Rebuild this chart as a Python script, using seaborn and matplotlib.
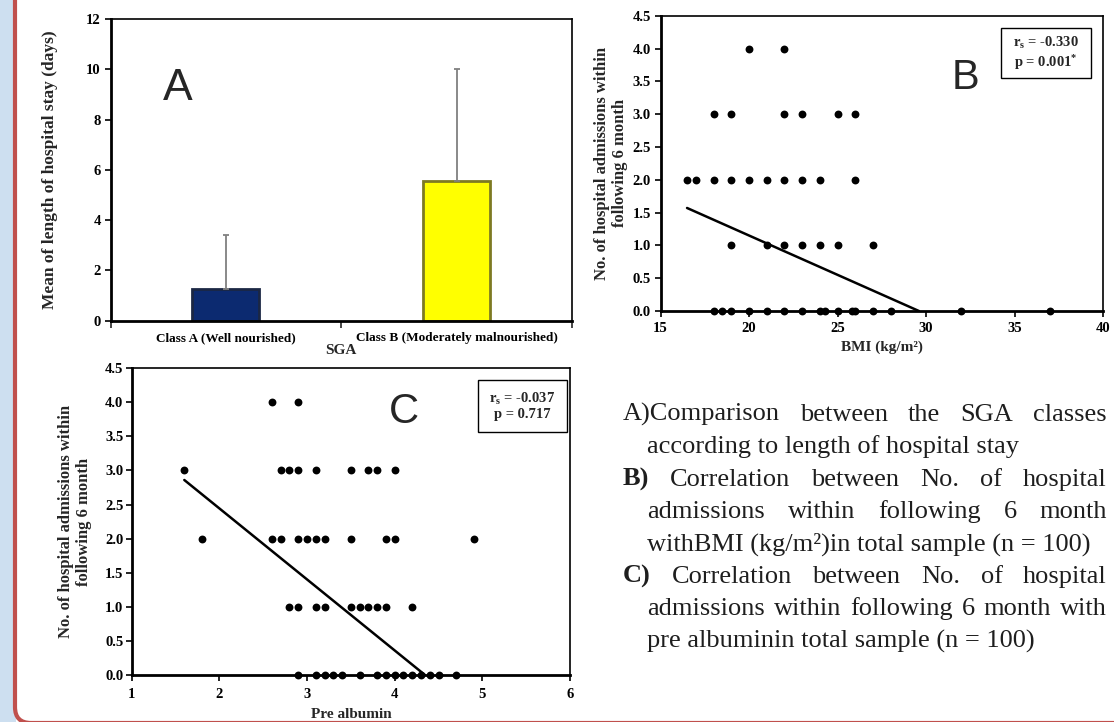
import matplotlib
matplotlib.use("Agg")
import matplotlib.pyplot as plt
import seaborn as sns
from matplotlib.patches import Rectangle, FancyBboxPatch

# ---- panel A: mean length of hospital stay by SGA class ----
sga_classes = ["Class A (Well nourished)", "Class B (Moderately malnourished)"]
stay_mean = [1.27, 5.57]
stay_sd = [2.15, 4.43]
stay_ticks = [0, 2, 4, 6, 8, 10, 12]

# ---- panel B: admissions vs BMI ----
bmi = [20, 22,
       18, 19, 22, 23, 25, 26,
       16.5, 17, 18, 19, 20, 21, 22, 23, 24, 26,
       19, 21, 22, 23, 24, 25, 27,
       18, 18.5, 19, 20, 21, 22, 23, 24, 24.3, 25, 25.8, 26, 27, 28, 32, 37]
bmi_adm = [4, 4,
           3, 3, 3, 3, 3, 3,
           2, 2, 2, 2, 2, 2, 2, 2, 2, 2,
           1, 1, 1, 1, 1, 1, 1,
           0, 0, 0, 0, 0, 0, 0, 0, 0, 0, 0, 0, 0, 0, 0, 0]
bmi_trend_x = [16.5, 29.6]
bmi_trend_y = [1.57, 0.0]
bmi_ticks = [15, 20, 25, 30, 35, 40]

# ---- panel C: admissions vs pre albumin ----
prealb = [2.6, 2.9,
          1.6, 2.7, 2.8, 2.9, 3.1, 3.5, 3.7, 3.8, 4.0,
          1.8, 2.6, 2.7, 2.9, 3.0, 3.1, 3.2, 3.5, 3.9, 4.0, 4.9,
          2.8, 2.9, 3.1, 3.2, 3.5, 3.6, 3.7, 3.8, 3.9, 4.2,
          2.9, 3.1, 3.2, 3.3, 3.4, 3.6, 3.8, 3.9, 4.0, 4.1, 4.2, 4.3, 4.4, 4.5, 4.7]
prealb_adm = [4, 4,
              3, 3, 3, 3, 3, 3, 3, 3, 3,
              2, 2, 2, 2, 2, 2, 2, 2, 2, 2, 2,
              1, 1, 1, 1, 1, 1, 1, 1, 1, 1,
              0, 0, 0, 0, 0, 0, 0, 0, 0, 0, 0, 0, 0, 0, 0]
prealb_trend_x = [1.6, 4.35]
prealb_trend_y = [2.86, 0.0]
prealb_ticks = [1, 2, 3, 4, 5, 6]
adm_ticks = [0, 0.5, 1, 1.5, 2, 2.5, 3, 3.5, 4, 4.5]

adm_label = "No. of hospital admissions within\nfollowing 6 month"

caption_lines = [
    ("", "A)Comparison between the SGA classes", False, True),
    ("", "according to length of hospital stay", True, False),
    ("B)", "Correlation between No. of hospital", False, True),
    ("", "admissions within following 6 month", True, True),
    ("", "withBMI (kg/m\u00b2)in total sample (n = 100)", True, False),
    ("C)", "Correlation between No. of hospital", False, True),
    ("", "admissions within following 6 month with", True, True),
    ("", "pre albuminin total sample (n = 100)", True, False),
]

sns.set_style("ticks")
plt.rcParams["font.family"] = ["Liberation Serif", "DejaVu Serif"]
plt.rcParams["mathtext.fontset"] = "custom"
plt.rcParams["mathtext.rm"] = "Liberation Serif:bold"
plt.rcParams["mathtext.it"] = "Liberation Serif:bold"
plt.rcParams["mathtext.bf"] = "Liberation Serif:bold"

W, H = 1114, 722
fig = plt.figure(figsize=(W / 100, H / 100), dpi=100)
fig.patch.set_facecolor("white")

# slide frame on the left (drawn below the axes)
fig.patches.append(Rectangle((0, 0), 16 / W, 1, transform=fig.transFigure,
                             facecolor="#cddff0", edgecolor="none", zorder=-3))
fig.patches.append(FancyBboxPatch((15, -1), 1300, 900, boxstyle="round,pad=0,rounding_size=16",
                                  transform=None, facecolor="white", edgecolor="#c0504d",
                                  linewidth=3, zorder=-2))


def px_axes(x0, y0, x1, y1):
    return fig.add_axes([x0 / W, 1 - y1 / H, (x1 - x0) / W, (y1 - y0) / H])


def style_axes(ax):
    ax.set_facecolor("none")
    for side in ["top", "right"]:
        ax.spines[side].set_visible(True)
        ax.spines[side].set_linewidth(1.2)
    for side in ["left", "bottom"]:
        ax.spines[side].set_linewidth(2)
    for sp in ax.spines.values():
        sp.set_color("black")
    ax.tick_params(direction="out", length=4, width=1.2, colors="black", labelsize=10.5)
    for lab in ax.get_xticklabels() + ax.get_yticklabels():
        lab.set_fontweight("bold")


def stat_box(ax, x0, y0, x1, y1, text):
    ax.add_patch(Rectangle((x0, y0), x1 - x0, y1 - y0, transform=ax.transAxes,
                           facecolor="white", edgecolor="black", linewidth=1, zorder=5))
    ax.text((x0 + x1) / 2, (y0 + y1) / 2, text, transform=ax.transAxes, ha="center",
            va="center", fontsize=10.5, fontweight="bold", linespacing=1.1, zorder=6)


# ---- A ----
axA = px_axes(110.5, 19, 572, 320.7)
sns.barplot(x=sga_classes, y=stay_mean, hue=sga_classes, palette=["#0c2a70", "#ffff00"],
            saturation=1, width=0.29, legend=False, linewidth=2, ax=axA)
for patch, ec in zip(axA.patches, ["#1b2744", "#7d7a22"]):
    patch.set_edgecolor(ec)
axA.errorbar(x=[0, 1], y=stay_mean, yerr=[[0, 0], stay_sd], fmt="none", ecolor="#808080",
             elinewidth=1.3, capsize=2.5, capthick=1.3, zorder=1)
axA.set_xlim(-0.5, 1.5)
axA.set_ylim(0, 12)
axA.set_yticks(stay_ticks)
axA.set_xticks([-0.5, 0.5, 1.5], minor=True)
style_axes(axA)
axA.tick_params(axis="x", which="major", length=0, pad=8, labelsize=9.5)
axA.tick_params(axis="x", which="minor", length=5, width=1.2, direction="out")
axA.tick_params(axis="y", pad=3)
axA.set_xlabel("SGA", fontsize=11, fontweight="bold")
axA.xaxis.set_label_coords(0.5, -0.078)
axA.set_ylabel("Mean of length of hospital stay (days)", fontsize=12.5, fontweight="bold")
axA.yaxis.set_label_coords(-0.114, 0.5)
axA.text(0.146, 0.77, "A", transform=axA.transAxes, ha="center", va="center",
         fontsize=32, family="Liberation Sans")

# ---- B ----
axB = px_axes(660.5, 15.7, 1103, 311)
sns.scatterplot(x=bmi, y=bmi_adm, color="black", s=32, linewidth=0, ax=axB, clip_on=False,
                zorder=4)
sns.lineplot(x=bmi_trend_x, y=bmi_trend_y, color="black", linewidth=1.8, sort=False, ax=axB)
axB.set_xlim(15, 40)
axB.set_ylim(0, 4.5)
axB.set_xticks(bmi_ticks)
axB.set_yticks(adm_ticks)
axB.set_yticklabels([f"{v:.1f}" for v in adm_ticks])
style_axes(axB)
axB.tick_params(axis="x", pad=4)
axB.tick_params(axis="y", pad=3)
axB.set_xlabel("BMI (kg/m\u00b2)", fontsize=11, fontweight="bold")
axB.xaxis.set_label_coords(0.5, -0.1)
axB.set_ylabel(adm_label, fontsize=12, fontweight="bold", linespacing=1.15)
axB.yaxis.set_label_coords(-0.073, 0.5)
axB.text(0.69, 0.789, "B", transform=axB.transAxes, ha="center", va="center",
         fontsize=30, family="Liberation Sans")
stat_box(axB, 0.769, 0.788, 0.972, 0.957, "r$_\\mathrm{s}$ = -0.330\np = 0.001$^\\mathrm{*}$")

# ---- C ----
axC = px_axes(131.7, 368, 570, 675.3)
sns.scatterplot(x=prealb, y=prealb_adm, color="black", s=32, linewidth=0, ax=axC,
                clip_on=False, zorder=4)
sns.lineplot(x=prealb_trend_x, y=prealb_trend_y, color="black", linewidth=1.8, sort=False,
             ax=axC)
axC.set_xlim(1, 6)
axC.set_ylim(0, 4.5)
axC.set_xticks(prealb_ticks)
axC.set_yticks(adm_ticks)
axC.set_yticklabels([f"{v:.1f}" for v in adm_ticks])
style_axes(axC)
axC.tick_params(axis="x", pad=5)
axC.tick_params(axis="y", pad=2)
axC.set_xlabel("Pre albumin", fontsize=11, fontweight="bold")
axC.xaxis.set_label_coords(0.5, -0.106)
axC.set_ylabel(adm_label, fontsize=12, fontweight="bold", linespacing=1.15)
axC.yaxis.set_label_coords(-0.09, 0.5)
axC.text(0.621, 0.858, "C", transform=axC.transAxes, ha="center", va="center",
         fontsize=30, family="Liberation Sans")
stat_box(axC, 0.789, 0.791, 0.9925, 0.961, "r$_\\mathrm{s}$ = -0.037\np = 0.717")

# ---- caption, justified like the slide ----
renderer = fig.canvas.get_renderer()
cap_kw = dict(fontsize=19, color="#1e1e1e", va="baseline", family="Liberation Serif")
left, indent, right = 623, 647, 1107
y = 421
for prefix, text, indented, justify in caption_lines:
    x0 = indent if indented else left
    yf = 1 - y / H
    if not justify:
        fig.text(x0 / W, yf, text, **cap_kw)
    else:
        tokens = ([(prefix, "bold")] if prefix else []) + [(w, "normal") for w in text.split(" ")]
        arts = [fig.text(0, yf, w, fontweight=wt, **cap_kw) for w, wt in tokens]
        widths = [a.get_window_extent(renderer).width for a in arts]
        gap = (right - x0 - sum(widths)) / (len(arts) - 1)
        x = x0
        for a, w in zip(arts, widths):
            a.set_x(x / W)
            x += w + gap
    y += 32.4

fig.savefig("out.png", dpi=100)
